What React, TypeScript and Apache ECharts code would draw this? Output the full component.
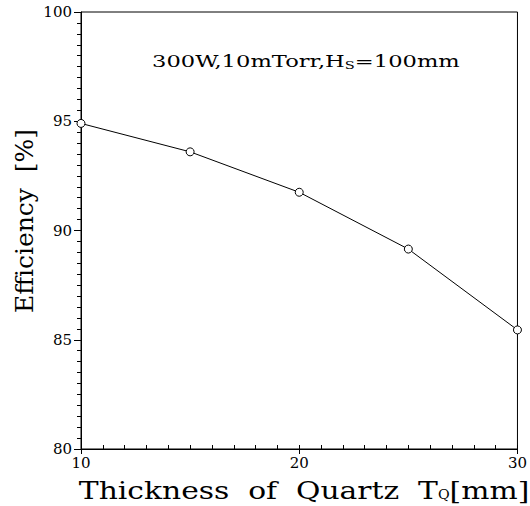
import React, { useEffect, useRef } from "react";
import * as echarts from "echarts";

// Quartz thickness [mm] and the measured efficiency [%]
const thickness = [10, 15, 20, 25, 30];
const efficiency = [94.9, 93.6, 91.75, 89.15, 85.45];

const xTicks = [10, 20, 30];
const yTicks = [80, 85, 90, 95, 100];

const SERIF = "'DejaVu Serif', 'Liberation Serif', serif";

export default function App() {
  const ref = useRef<HTMLDivElement>(null);

  useEffect(() => {
    if (!ref.current) return;
    const chart = echarts.init(ref.current, undefined, { renderer: "svg" });
    const grid = { left: 81, top: 12, width: 442, height: 437 };
    const xMin = xTicks[0];
    const xMax = xTicks[xTicks.length - 1];

    chart.setOption({
      animation: false,
      backgroundColor: "#ffffff",
      grid: { ...grid, show: true, borderColor: "#000", borderWidth: 1, backgroundColor: "transparent" },
      xAxis: [
        {
          // small inner ticks every 1 mm, labels at the decades
          type: "value",
          position: "bottom",
          min: xMin,
          max: xMax,
          interval: 1,
          axisLine: { lineStyle: { color: "#000", width: 1 } },
          axisTick: { show: true, inside: true, length: 4, lineStyle: { color: "#000" } },
          axisLabel: {
            color: "#000",
            fontFamily: SERIF,
            fontSize: 15,
            margin: 6,
            formatter: (v: number) => (xTicks.includes(v) ? String(v) : ""),
          },
          splitLine: { show: false },
        },
        {
          // outward major ticks, laid on the bottom edge
          type: "value",
          position: "top",
          offset: -grid.height,
          min: xMin,
          max: xMax,
          interval: 10,
          axisLine: { show: false },
          axisTick: { show: true, inside: true, length: 5, lineStyle: { color: "#000" } },
          axisLabel: { show: false },
          splitLine: { show: false },
        },
      ],
      yAxis: [
        {
          type: "value",
          min: yTicks[0],
          max: yTicks[yTicks.length - 1],
          interval: 5,
          axisLine: { show: true, lineStyle: { color: "#000", width: 1 } },
          axisTick: { show: true, inside: false, length: 7, lineStyle: { color: "#000" } },
          minorTick: { show: true, splitNumber: 10, length: 4, lineStyle: { color: "#000" } },
          axisLabel: { color: "#000", fontFamily: SERIF, fontSize: 15, margin: 9 },
          splitLine: { show: false },
        },
      ],
      graphic: [
        {
          type: "text",
          x: 152,
          y: 52,
          scaleX: 1.33,
          style: {
            text: "300W,10mTorr,H{s|S}=100mm",
            rich: {
              s: { fontSize: 11, fontFamily: SERIF, fill: "#000", padding: [8, 0, 0, 0] },
            },
            font: `17px ${SERIF}`,
            fill: "#000",
            verticalAlign: "top",
          },
        },
        {
          type: "text",
          x: 24,
          y: 221,
          rotation: Math.PI / 2,
          style: {
            text: "Efficiency  [%]",
            font: `25px ${SERIF}`,
            fill: "#000",
            align: "center",
            verticalAlign: "middle",
          },
        },
        {
          type: "text",
          x: 304,
          y: 490,
          scaleX: 1.19,
          style: {
            text: "Thickness  of  Quartz  T{s|Q}[mm]",
            rich: {
              s: { fontSize: 12, fontFamily: SERIF, fill: "#000", padding: [10, 0, 0, 0] },
            },
            font: `25px ${SERIF}`,
            fill: "#000",
            align: "center",
            verticalAlign: "middle",
          },
        },
      ],
      series: [
        {
          type: "line",
          data: thickness.map((t, i) => [t, efficiency[i]]),
          symbol: "circle",
          symbolSize: 8,
          showSymbol: true,
          lineStyle: { color: "#000", width: 1 },
          itemStyle: { color: "#fff", borderColor: "#000", borderWidth: 1 },
          clip: false,
          z: 5,
        },
      ],
    });

    return () => chart.dispose();
  }, []);

  return (
    <div
      ref={ref}
      style={{ position: "fixed", left: 0, top: 0, width: 530, height: 506, background: "#fff" }}
    />
  );
}
